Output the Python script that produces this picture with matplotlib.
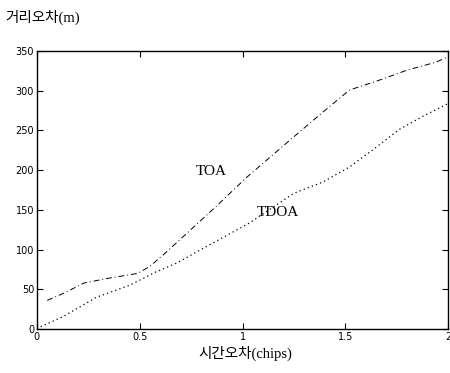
import matplotlib
matplotlib.use('Agg')
import matplotlib.pyplot as plt
import matplotlib.ticker as ticker

# Data
toa_x = [0.05, 0.13, 0.23, 0.35, 0.49, 0.55, 0.63, 0.71, 0.87, 1.02, 1.24, 1.39, 1.52, 1.65, 1.80, 1.94, 2.0]
toa_y = [36, 45, 58, 64, 70, 79, 97, 116, 154, 191, 240, 273, 301, 312, 326, 336, 343]
tdoa_x = [0.0, 0.02, 0.13, 0.29, 0.45, 0.58, 0.68, 0.79, 1.03, 1.25, 1.39, 1.52, 1.63, 1.76, 1.87, 2.0]
tdoa_y = [0, 3, 16, 40, 55, 72, 83, 99, 133, 171, 185, 204, 225, 251, 267, 284]

x_ticks = [0, 0.5, 1, 1.5, 2]
x_tick_labels = ['0', '0.5', '1', '1.5', '2']
y_ticks = [0, 50, 100, 150, 200, 250, 300, 350]

# serif for latin letters, CJK font for hangul
KO = ['Liberation Serif', 'Noto Sans CJK KR']

fig = plt.figure(figsize=(4.5, 3.73), dpi=100)
ax = fig.add_axes([0.082, 0.118, 0.914, 0.745])

ax.plot(toa_x, toa_y, color='black', lw=0.7, ls=(0, (6, 3, 1, 3)))
ax.plot(tdoa_x, tdoa_y, color='black', lw=0.9, ls=(0, (1, 2.5)))

ax.set_xlim(0, 2)
ax.set_ylim(0, 350)
ax.xaxis.set_major_locator(ticker.FixedLocator(x_ticks))
ax.set_xticklabels(x_tick_labels)
ax.yaxis.set_major_locator(ticker.FixedLocator(y_ticks))
ax.tick_params(direction='in', top=True, right=True, length=4, width=0.8,
               labelsize=7, pad=2)
for s in ax.spines.values():
    s.set_linewidth(1.0)

# Curve labels
ax.text(0.77, 198, 'TOA', fontsize=11, family='Liberation Serif', va='center')
ax.text(1.07, 147, 'TDOA', fontsize=11, family='Liberation Serif', va='center')

# Axis titles
fig.text(0.012, 0.952, '거리오차(m)', fontsize=10.5, family=KO, va='center')
fig.text(0.545, 0.052, '시간오차(chips)', fontsize=10.5, family=KO, ha='center', va='center')

plt.savefig('out.png', dpi=100)
